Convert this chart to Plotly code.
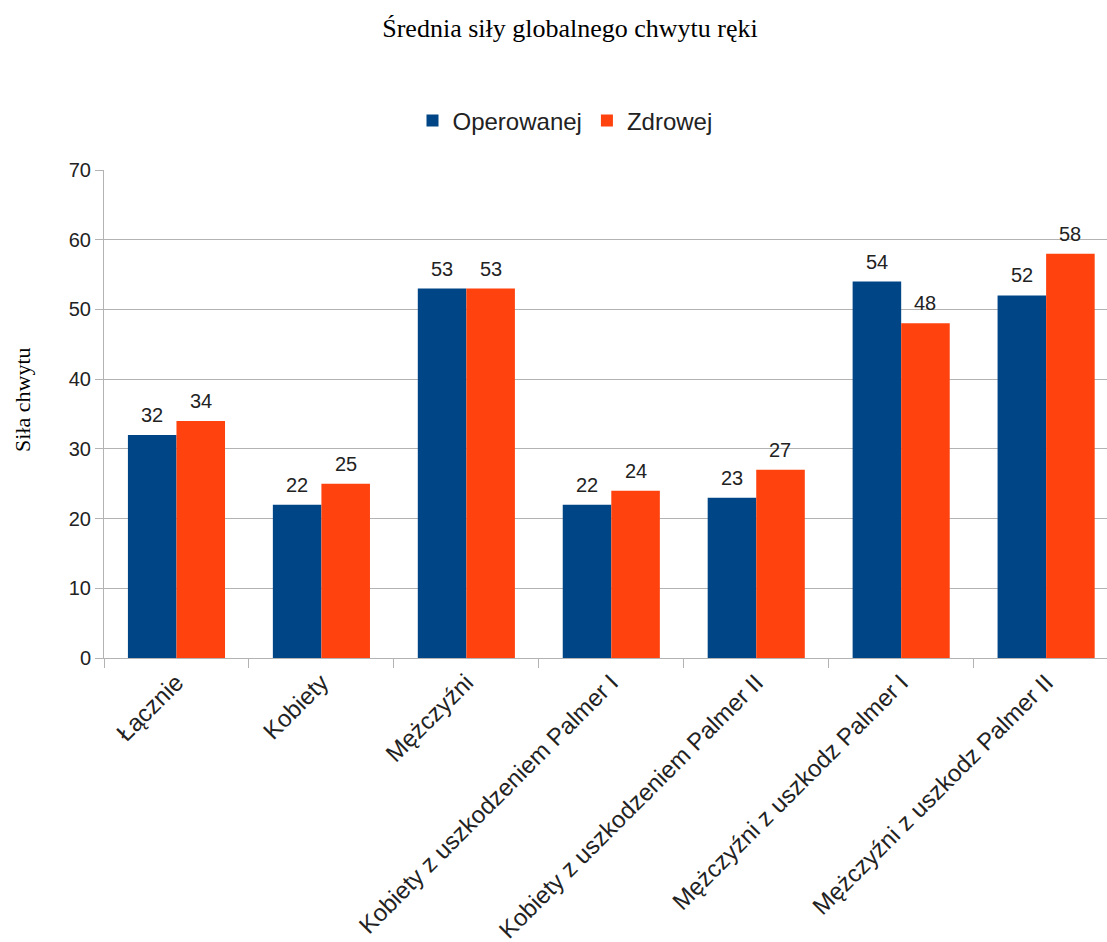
import plotly.graph_objects as go

categories = [
    "Łącznie",
    "Kobiety",
    "Mężczyźni",
    "Kobiety z uszkodzeniem Palmer I",
    "Kobiety z uszkodzeniem Palmer II",
    "Mężczyźni z uszkodz Palmer I",
    "Mężczyźni z uszkodz Palmer II",
]
operowanej = [32, 22, 53, 22, 23, 54, 52]
zdrowej = [34, 25, 53, 24, 27, 48, 58]

BLUE = "#004586"
ORANGE = "#ff420e"
GRID = "#b3b3b3"
TXT = "#222222"

W, H = 1107, 942
L, T, B = 104, 170, 284
PH = H - T - B          # plot height in px
PW = W - L              # plot width in px

fig = go.Figure()
fig.add_trace(go.Bar(name="Operowanej", x=categories, y=operowanej,
                     marker=dict(color=BLUE, line=dict(width=0))))
fig.add_trace(go.Bar(name="Zdrowej", x=categories, y=zdrowej,
                     marker=dict(color=ORANGE, line=dict(width=0))))

# value labels above each bar
annotations = []
for i, (a, b) in enumerate(zip(operowanej, zdrowej)):
    for off, v in ((-0.167, a), (0.167, b)):
        annotations.append(dict(
            x=i + off, y=v, xref="x", yref="y", text=str(v),
            showarrow=False, yanchor="bottom", yshift=7,
            font=dict(family="Liberation Sans", size=20, color=TXT)))

# y-axis title
annotations.append(dict(
    text="Siła chwytu", textangle=-90, showarrow=False,
    xref="paper", yref="paper", x=(22 - L) / PW, y=(H - B - 400) / PH,
    xanchor="center", yanchor="middle",
    font=dict(family="Liberation Serif", size=22, color="#000000")))

fig.update_layout(
    width=W, height=H,
    margin=dict(l=L, r=0, t=T, b=B),
    paper_bgcolor="white", plot_bgcolor="white",
    barmode="group", bargap=0.33, bargroupgap=0,
    title=dict(text="Średnia siły globalnego chwytu ręki",
               x=570 / W, xanchor="center", y=1 - 28 / H, yanchor="middle",
               font=dict(family="Liberation Serif", size=26, color="#000000")),
    legend=dict(orientation="h", x=(565 - L) / PW, xanchor="center",
                y=1 + (T - 121) / PH, yanchor="middle",
                font=dict(family="Liberation Sans", size=24, color=TXT),
                itemwidth=30, traceorder="normal"),
    annotations=annotations,
    showlegend=True,
)

fig.update_xaxes(
    type="category", range=[-0.5, 6.42],
    tickangle=-45, ticks="outside", ticklen=9, tickcolor=GRID,
    showline=True, linecolor=GRID, linewidth=1,
    tickson="boundaries",
    tickfont=dict(family="Liberation Sans", size=24, color=TXT),
)
fig.update_yaxes(
    range=[0, 70], dtick=10, ticks="outside", ticklen=8, tickcolor=GRID,
    showline=True, linecolor=GRID, linewidth=1,
    showgrid=True, gridcolor=GRID, gridwidth=1, zeroline=False,
    tickfont=dict(family="Liberation Sans", size=20, color=TXT),
)

fig.write_html("out.html")
